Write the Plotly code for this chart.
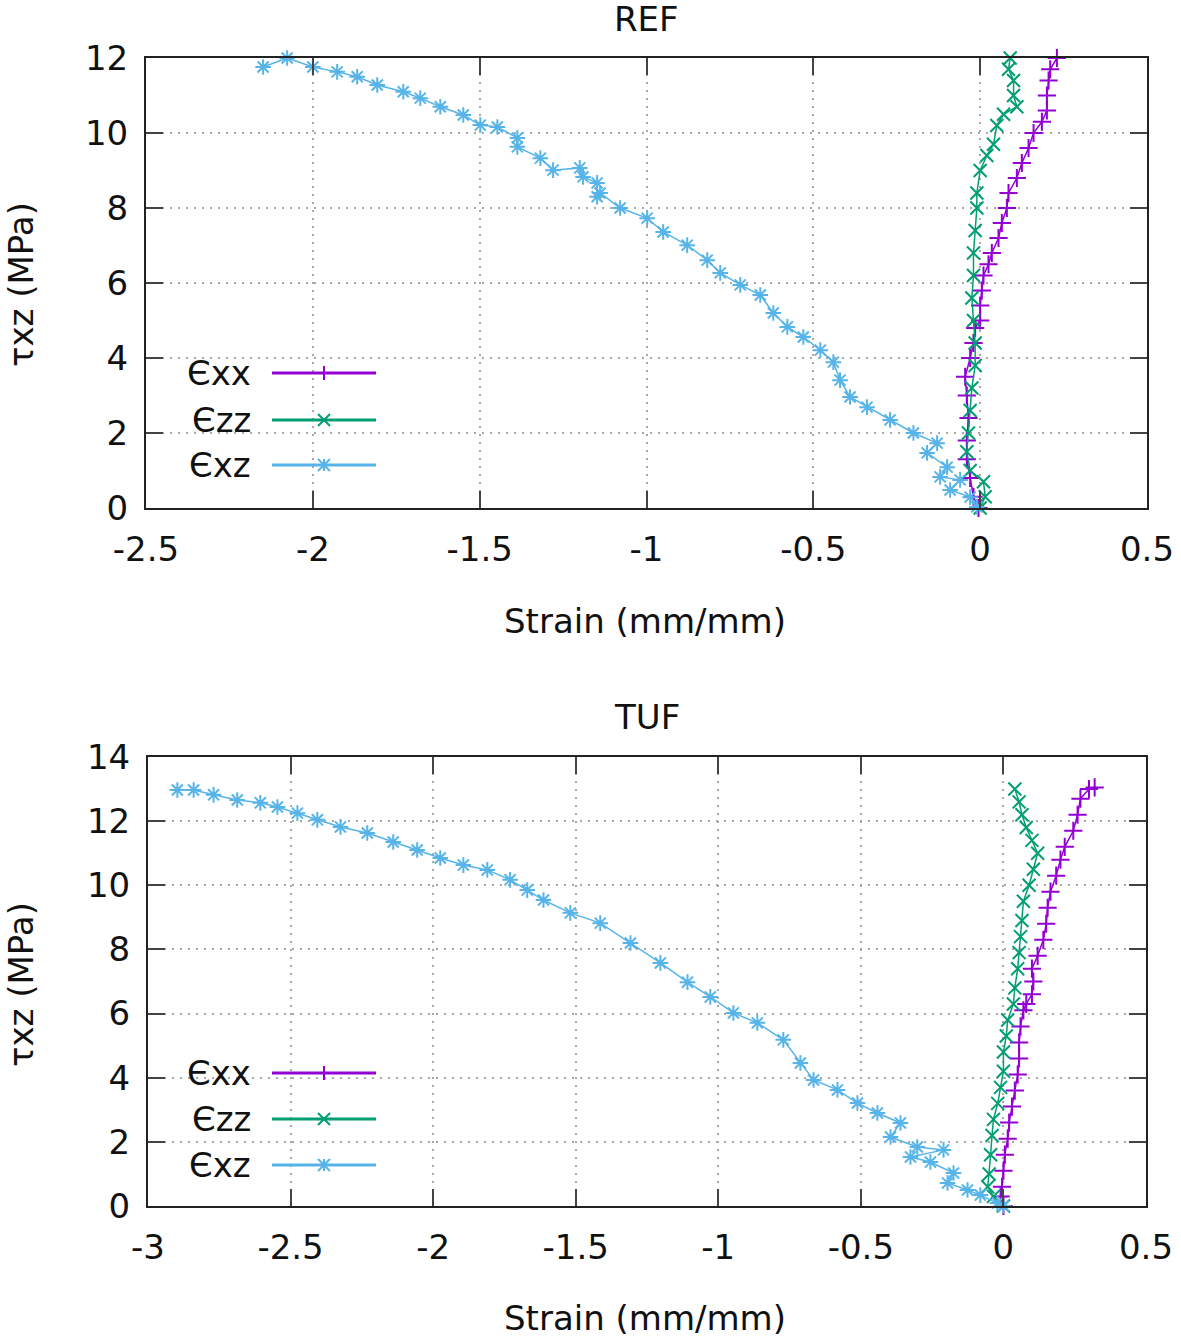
import plotly.graph_objects as go

# ---------------- data ----------------
ref_exx_x = [-0.005, -0.02, -0.03, -0.04, -0.04, -0.035, -0.04, -0.045, -0.03, -0.02, -0.015, 0.0, 0.0, 0.005,
             0.01, 0.025, 0.035, 0.055, 0.065, 0.08, 0.085, 0.11, 0.125, 0.145, 0.16, 0.185, 0.2, 0.2, 0.205, 0.21, 0.23]
ref_exx_y = [0.0, 0.3, 0.8, 1.3, 1.8, 2.4, 3.0, 3.5, 4.0, 4.4, 4.8, 5.0, 5.4, 5.8,
             6.2, 6.5, 6.8, 7.2, 7.6, 8.0, 8.4, 8.8, 9.2, 9.6, 10.0, 10.3, 10.6, 11.0, 11.4, 11.7, 12.0]

ref_ezz_x = [0.0, 0.015, 0.01, -0.03, -0.04, -0.035, -0.03, -0.025, -0.015, -0.015, -0.02, -0.025, -0.02, -0.02,
             -0.015, -0.01, -0.01, 0.0, 0.02, 0.04, 0.05, 0.07, 0.11, 0.1, 0.1, 0.085, 0.09]
ref_ezz_y = [0.0, 0.3, 0.7, 1.0, 1.5, 2.0, 2.6, 3.2, 3.8, 4.4, 5.0, 5.6, 6.2, 6.8,
             7.4, 8.0, 8.4, 9.0, 9.4, 9.7, 10.2, 10.5, 10.7, 11.0, 11.4, 11.7, 12.0]

ref_exz_x = [-0.01, -0.03, -0.09, -0.06, -0.12, -0.099, -0.159, -0.129, -0.2, -0.27, -0.339, -0.39, -0.42, -0.44,
             -0.479, -0.53, -0.578, -0.62, -0.659, -0.719, -0.779, -0.818, -0.878, -0.95, -0.998, -1.079, -1.139,
             -1.148, -1.148, -1.19, -1.2, -1.28, -1.318, -1.387, -1.387, -1.447, -1.498, -1.549, -1.618, -1.678,
             -1.729, -1.807, -1.867, -1.927, -2.0, -2.077, -2.149]
ref_exz_y = [0.03, 0.29, 0.48, 0.75, 0.83, 1.09, 1.47, 1.73, 2.0, 2.35, 2.69, 2.96, 3.41, 3.89,
             4.21, 4.56, 4.83, 5.2, 5.68, 5.95, 6.27, 6.61, 7.01, 7.36, 7.73, 8.0, 8.4,
             8.3, 8.67, 8.83, 9.07, 9.01, 9.33, 9.63, 9.87, 10.16, 10.21, 10.48, 10.7, 10.93,
             11.1, 11.28, 11.5, 11.63, 11.76, 12.0, 11.76]

tuf_exx_x = [0.0, -0.01, -0.005, 0.0, 0.005, 0.015, 0.02, 0.03, 0.04, 0.05, 0.055, 0.055, 0.06, 0.07, 0.08,
             0.1, 0.105, 0.1, 0.12, 0.14, 0.15, 0.155, 0.165, 0.185, 0.2, 0.215, 0.245, 0.26, 0.27, 0.3, 0.32]
tuf_exx_y = [0.0, 0.3, 0.6, 1.1, 1.6, 2.1, 2.6, 3.1, 3.6, 4.1, 4.6, 5.1, 5.6, 6.1, 6.3,
             6.6, 7.0, 7.4, 7.8, 8.3, 8.8, 9.3, 9.8, 10.3, 10.8, 11.2, 11.7, 12.2, 12.7, 13.0, 13.05]

tuf_ezz_x = [0.0, -0.035, -0.055, -0.05, -0.045, -0.04, -0.035, -0.02, -0.01, 0.0, 0.0, 0.01, 0.015, 0.035,
             0.04, 0.05, 0.055, 0.06, 0.065, 0.07, 0.09, 0.105, 0.12, 0.1, 0.08, 0.065, 0.055, 0.04]
tuf_ezz_y = [0.0, 0.3, 0.6, 1.0, 1.6, 2.2, 2.7, 3.2, 3.7, 4.2, 4.8, 5.3, 5.8, 6.3,
             6.8, 7.4, 7.9, 8.4, 8.9, 9.5, 10.0, 10.5, 11.0, 11.4, 11.8, 12.2, 12.6, 13.0]

tuf_exz_x = [0.0, -0.021, -0.081, -0.126, -0.196, -0.175, -0.256, -0.326, -0.21, -0.302, -0.396, -0.361,
             -0.442, -0.512, -0.582, -0.666, -0.712, -0.772, -0.863, -0.947, -1.028, -1.108, -1.203, -1.308,
             -1.414, -1.519, -1.613, -1.67, -1.73, -1.81, -1.894, -1.975, -2.056, -2.14, -2.231, -2.325,
             -2.406, -2.476, -2.546, -2.606, -2.687, -2.77, -2.84, -2.897]
tuf_exz_y = [0.0, 0.09, 0.34, 0.5, 0.72, 1.03, 1.37, 1.53, 1.75, 1.84, 2.15, 2.59,
             2.9, 3.21, 3.62, 3.93, 4.46, 5.18, 5.71, 6.02, 6.52, 6.98, 7.58, 8.2,
             8.82, 9.14, 9.54, 9.85, 10.17, 10.48, 10.63, 10.85, 11.1, 11.35, 11.63, 11.82,
             12.04, 12.25, 12.44, 12.57, 12.66, 12.82, 12.97, 12.97]

series_names = ["Єxx", "Єzz", "Єxz"]
colors = ["#9400D3", "#009E73", "#56B4E9"]
symbols = ["cross-thin", "x-thin", "asterisk"]

ref_xticks = [-2.5, -2, -1.5, -1, -0.5, 0, 0.5]
ref_xtext = ["-2.5", "-2", "-1.5", "-1", "-0.5", "0", "0.5"]
ref_yticks = [0, 2, 4, 6, 8, 10, 12]
tuf_xticks = [-3, -2.5, -2, -1.5, -1, -0.5, 0, 0.5]
tuf_xtext = ["-3", "-2.5", "-2", "-1.5", "-1", "-0.5", "0", "0.5"]
tuf_yticks = [0, 2, 4, 6, 8, 10, 12, 14]

W, H = 1181, 1343
FONT = "DejaVu Sans"
FS = 34


def px(x):
    return x / W


def py(y):
    return 1 - y / H


fig = go.Figure()

ref_data = [(ref_exx_x, ref_exx_y), (ref_ezz_x, ref_ezz_y), (ref_exz_x, ref_exz_y)]
tuf_data = [(tuf_exx_x, tuf_exx_y), (tuf_ezz_x, tuf_ezz_y), (tuf_exz_x, tuf_exz_y)]

for axes, data in (("1", ref_data), ("2", tuf_data)):
    for (xs, ys), name, c, s in zip(data, series_names, colors, symbols):
        fig.add_trace(go.Scatter(
            x=xs, y=ys, name=name, mode="lines+markers",
            xaxis="x" if axes == "1" else "x2", yaxis="y" if axes == "1" else "y2",
            line=dict(color=c, width=1.5),
            marker=dict(symbol=s, size=13, color=c, line=dict(color=c, width=2)),
            showlegend=False, cliponaxis=False,
        ))

axis_common = dict(
    automargin=False,
    showline=True, linecolor="#222222", linewidth=2, mirror="ticks",
    ticks="inside", ticklen=17, tickwidth=2, tickcolor="#444444",
    showgrid=True, gridcolor="#a8a8a8", gridwidth=1.5, griddash="2px,6px",
    zeroline=False, tickfont=dict(family=FONT, size=FS, color="#111111"),
)

fig.update_layout(
    template="none",
    width=W, height=H, margin=dict(l=0, r=0, t=0, b=0, pad=0),
    paper_bgcolor="white", plot_bgcolor="white", showlegend=False,
    xaxis=dict(domain=[px(146), px(1147)], range=[-2.5, 0.5], tickvals=ref_xticks, ticktext=ref_xtext,
               anchor="y", ticklabelstandoff=10, **axis_common),
    yaxis=dict(domain=[py(508), py(58)], range=[0, 12], tickvals=ref_yticks, anchor="x",
               ticklabelstandoff=9, **axis_common),
    xaxis2=dict(domain=[px(148), px(1146)], range=[-3, 0.5], tickvals=tuf_xticks, ticktext=tuf_xtext,
                anchor="y2", ticklabelstandoff=10, **axis_common),
    yaxis2=dict(domain=[py(1206), py(757)], range=[0, 14], tickvals=tuf_yticks, anchor="x2",
                ticklabelstandoff=9, **axis_common),
)

annotations = []
shapes = []


def text(t, x, y, angle=0, xanchor="center"):
    annotations.append(dict(text=t, x=px(x), y=py(y), xref="paper", yref="paper", showarrow=False,
                            xanchor=xanchor, yanchor="middle", textangle=angle,
                            font=dict(family=FONT, size=FS, color="#111111")))


text("REF", 647, 19)
text("Strain (mm/mm)", 645, 621)
text("τxz (MPa)", 21, 285, angle=-90)
text("TUF", 647, 717)
text("Strain (mm/mm)", 645, 1318)
text("τxz (MPa)", 21, 985, angle=-90)


def line(x0, y0, x1, y1, c, w):
    shapes.append(dict(type="line", xref="paper", yref="paper", x0=px(x0), y0=py(y0), x1=px(x1), y1=py(y1),
                       line=dict(color=c, width=w)))


legend_rows = [[373, 420, 465], [1073, 1119, 1165]]
for rows in legend_rows:
    for yrow, name, c, s in zip(rows, series_names, colors, symbols):
        text(name, 253, yrow, xanchor="right")
        line(272, yrow, 376, yrow, c, 3)
        cx, r = 324, 6
        if s == "cross-thin":
            line(cx, yrow - r - 1, cx, yrow + r + 1, c, 2)
        elif s == "x-thin":
            line(cx - r, yrow - r, cx + r, yrow + r, c, 2)
            line(cx - r, yrow + r, cx + r, yrow - r, c, 2)
        else:
            line(cx, yrow - r, cx, yrow + r, c, 2)
            line(cx - r, yrow - r, cx + r, yrow + r, c, 2)
            line(cx - r, yrow + r, cx + r, yrow - r, c, 2)

fig.update_layout(annotations=annotations, shapes=shapes)

fig.write_html("out.html", config={"displayModeBar": False},
               post_script="document.body.style.margin='0';document.body.style.padding='0';")
